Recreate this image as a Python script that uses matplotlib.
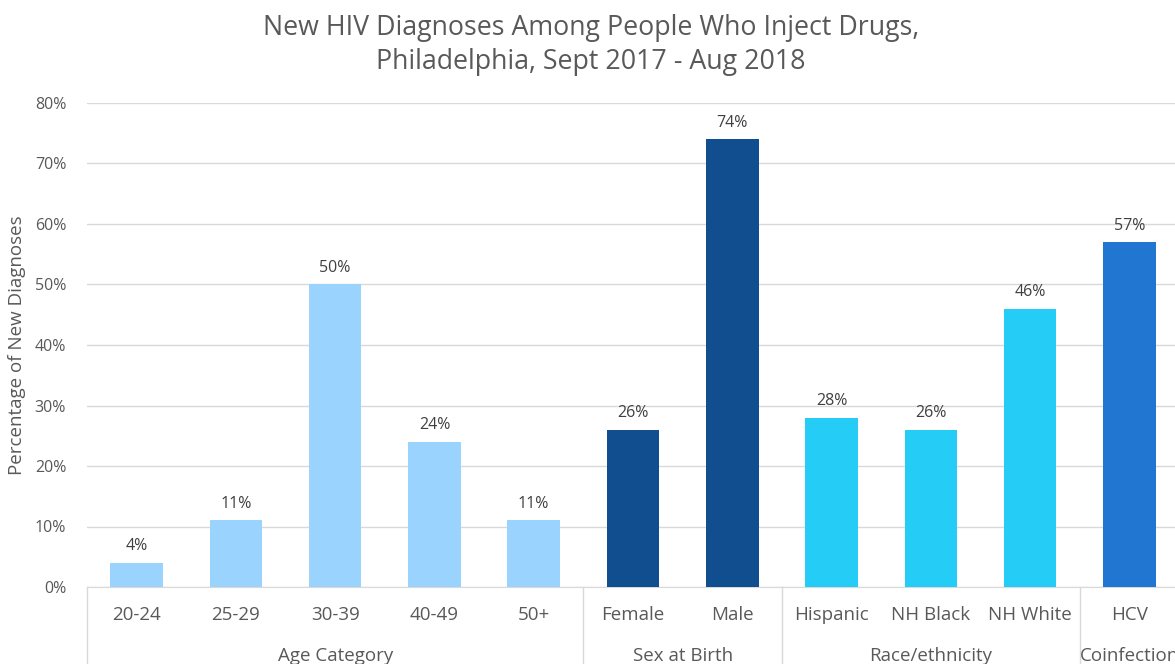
import matplotlib
matplotlib.use("Agg")
import matplotlib.pyplot as plt
import matplotlib.transforms as mtransforms
from matplotlib.lines import Line2D

categories = ["20-24", "25-29", "30-39", "40-49", "50+", "Female", "Male",
              "Hispanic", "NH Black", "NH White", "HCV"]
values = [4, 11, 50, 24, 11, 26, 74, 28, 26, 46, 57]
groups = ["Age Category", "Sex at Birth", "Race/ethnicity", "Coinfection"]
group_sizes = [5, 2, 3, 1]
group_colors = ["#99D3FE", "#114E8F", "#24CCF6", "#2176D2"]
yticks = [0, 10, 20, 30, 40, 50, 60, 70, 80]

plt.rcParams['font.family'] = ['Open Sans', 'DejaVu Sans']
fig = plt.figure(figsize=(11.75, 6.64), dpi=100)
W, H = 1175, 664
left_px, right_px, zero_px, top_px = 87, 1179, 587, 103
ax = fig.add_axes([left_px / W, 1 - zero_px / H, (right_px - left_px) / W,
                   (zero_px - top_px) / H])

colors = []
for c, n in zip(group_colors, group_sizes):
    colors += [c] * n
x = list(range(len(categories)))
ax.bar(x, values, width=0.53, color=colors, zorder=3)
for xi, v in zip(x, values):
    ax.annotate(f"{v}%", (xi, v), xytext=(0, 6), textcoords="offset points",
                ha="center", va="bottom", fontsize=11.5, color="#404040")

ax.set_xlim(-0.5, len(categories) - 0.5)
ax.set_ylim(0, 80)
ax.set_yticks(yticks)
ax.set_yticklabels([f"{t}%" for t in yticks], fontsize=11.5, color="#595959")
ax.yaxis.grid(True, color="#D9D9D9", linewidth=1, zorder=0)
ax.tick_params(axis="y", length=0, pad=15)
ax.set_xticks(x)
ax.set_xticklabels(categories, fontsize=13.5, color="#595959")
ax.tick_params(axis="x", length=0, pad=14)
for s in ["top", "right", "left"]:
    ax.spines[s].set_visible(False)
ax.spines["bottom"].set_color("#D9D9D9")
ax.set_ylabel("Percentage of New Diagnoses", fontsize=13.5, color="#595959")
ax.yaxis.set_label_coords(-0.056, 0.5)

trans = mtransforms.blended_transform_factory(ax.transData, ax.transAxes)
bounds = [-0.5]
for n in group_sizes:
    bounds.append(bounds[-1] + n)
for b in bounds:
    ax.add_line(Line2D([b, b], [0, -0.25], transform=trans, color="#D9D9D9",
                       linewidth=1, clip_on=False))
for g, a, b in zip(groups, bounds[:-1], bounds[1:]):
    ax.text((a + b) / 2, -0.142, g, transform=trans, ha="center", va="center",
            fontsize=13.5, color="#595959", clip_on=False)

fig.text(591 / W, 1 - 45 / H,
         "New HIV Diagnoses Among People Who Inject Drugs,\nPhiladelphia, Sept 2017 - Aug 2018",
         ha="center", va="center", fontsize=19.3, color="#595959", linespacing=1.3)

fig.savefig("out.png", dpi=100)
